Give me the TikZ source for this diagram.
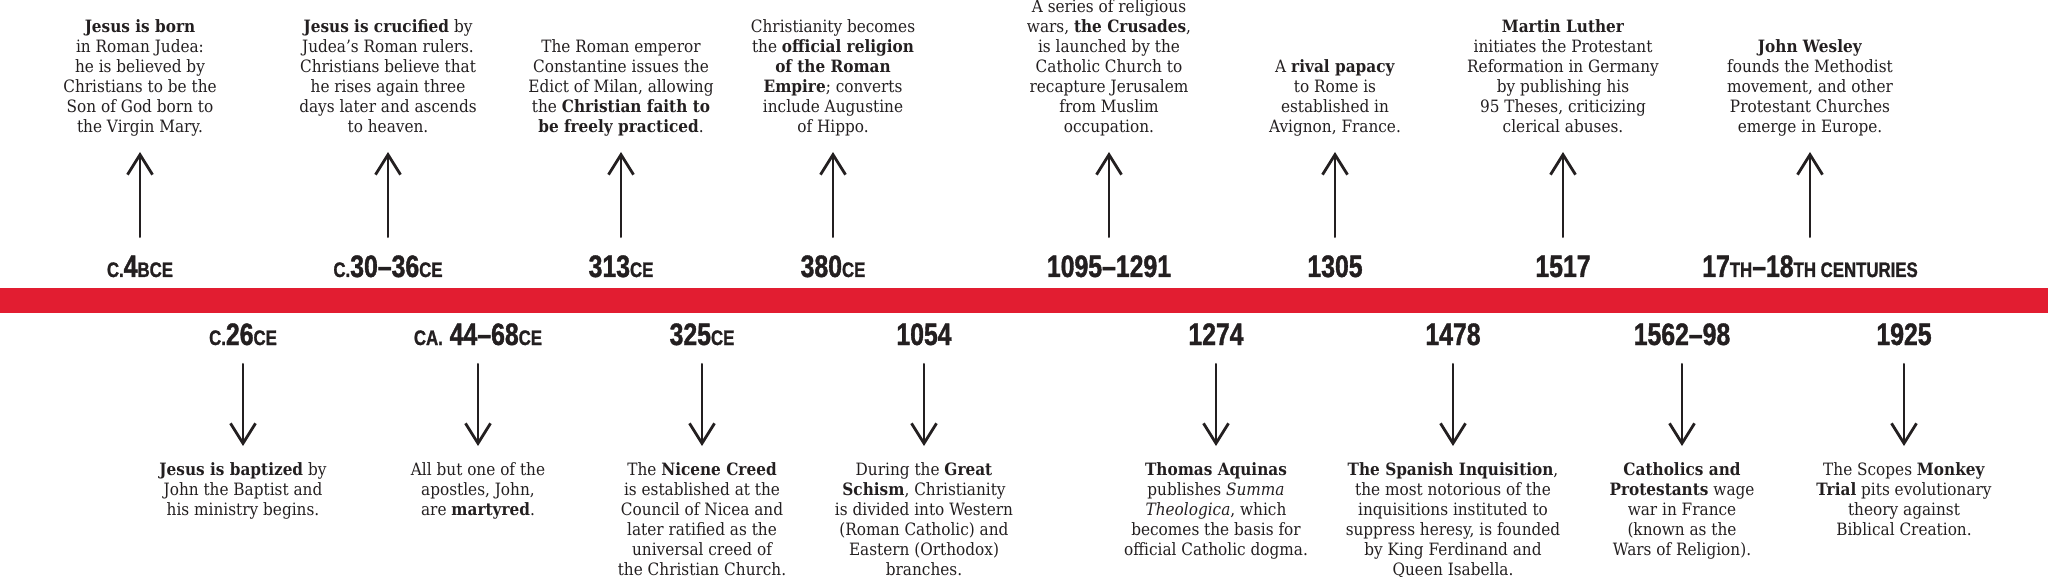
\documentclass[tikz,border=0pt]{standalone}
\usepackage{fontspec}
\setmainfont{DejaVu Serif}[FakeStretch=0.9]
\newfontfamily\datefont{Liberation Sans}[FakeStretch=0.8, FakeBold=1.2]
\usetikzlibrary{arrows.meta}
\definecolor{bandred}{RGB}{226,29,49}
\definecolor{ink}{RGB}{35,31,32}
\newcommand{\sm}[1]{{\fontsize{21}{21}\selectfont #1}}
\tikzset{
  desc/.style={font=\fontsize{17}{20}\selectfont, align=center, inner sep=0pt, text=ink},
  date/.style={font=\datefont\bfseries\fontsize{31}{31}\selectfont, inner sep=0pt, text height=22pt, text depth=0pt, text=ink},
  arr/.style={line width=2.8pt, line cap=round, line join=round, draw=ink, -{Straight Barb[length=20pt,width=25pt]}},
  uparr/.style={arr, shorten <=18pt, shorten >=13pt},
  downarr/.style={arr, shorten <=19pt, shorten >=15pt}
}
\begin{document}
\begin{tikzpicture}[x=1pt,y=-1pt]
\useasboundingbox (0,0) rectangle (2048,577);
\fill[bandred] (0,288) rectangle (2048,313);

% top events
\node[date, anchor=base] (d1) at (140,277) {\sm{C.}4\sm{BCE}};
\node[desc, anchor=south] (t1) at (140,139) {\strut\textbf{Jesus is born}\\\strut in Roman Judea:\\\strut he is believed by\\\strut Christians to be the\\\strut Son of God born to\\\strut the Virgin Mary.};
\node[date, anchor=base] (d2) at (388,277) {\sm{C.}30–36\sm{CE}};
\node[desc, anchor=south] (t2) at (388,139) {\strut\textbf{Jesus is crucified} by\\\strut Judea’s Roman rulers.\\\strut Christians believe that\\\strut he rises again three\\\strut days later and ascends\\\strut to heaven.};
\node[date, anchor=base] (d3) at (621,277) {313\sm{CE}};
\node[desc, anchor=south] (t3) at (621,139) {\strut The Roman emperor\\\strut Constantine issues the\\\strut Edict of Milan, allowing\\\strut the \textbf{Christian faith to}\\\strut\textbf{be freely practiced}.};
\node[date, anchor=base] (d4) at (833,277) {380\sm{CE}};
\node[desc, anchor=south] (t4) at (833,139) {\strut Christianity becomes\\\strut the \textbf{official religion}\\\strut\textbf{of the Roman}\\\strut\textbf{Empire}; converts\\\strut include Augustine\\\strut of Hippo.};
\node[date, anchor=base] (d5) at (1109,277) {1095–1291};
\node[desc, anchor=south] (t5) at (1109,139) {\strut A series of religious\\\strut wars, \textbf{the Crusades},\\\strut is launched by the\\\strut Catholic Church to\\\strut recapture Jerusalem\\\strut from Muslim\\\strut occupation.};
\node[date, anchor=base] (d6) at (1335,277) {1305};
\node[desc, anchor=south] (t6) at (1335,139) {\strut A \textbf{rival papacy}\\\strut to Rome is\\\strut established in\\\strut Avignon, France.};
\node[date, anchor=base] (d7) at (1563,277) {1517};
\node[desc, anchor=south] (t7) at (1563,139) {\strut\textbf{Martin Luther}\\\strut initiates the Protestant\\\strut Reformation in Germany\\\strut by publishing his\\\strut 95 Theses, criticizing\\\strut clerical abuses.};
\node[date, anchor=base] (d8) at (1810,277) {17\sm{TH}–18\sm{TH CENTURIES}};
\node[desc, anchor=south] (t8) at (1810,139) {\strut\textbf{John Wesley}\\\strut founds the Methodist\\\strut movement, and other\\\strut Protestant Churches\\\strut emerge in Europe.};

\foreach \i in {1,...,8} \draw[uparr] (d\i.north) -- (t\i.south);

% bottom events
\node[date, anchor=base] (e1) at (243,345) {\sm{C.}26\sm{CE}};
\node[desc, anchor=north] (b1) at (243,461) {\strut\textbf{Jesus is baptized} by\\\strut John the Baptist and\\\strut his ministry begins.};
\node[date, anchor=base] (e2) at (478,345) {\sm{CA.} 44–68\sm{CE}};
\node[desc, anchor=north] (b2) at (478,461) {\strut All but one of the\\\strut apostles, John,\\\strut are \textbf{martyred}.};
\node[date, anchor=base] (e3) at (702,345) {325\sm{CE}};
\node[desc, anchor=north] (b3) at (702,461) {\strut The \textbf{Nicene Creed}\\\strut is established at the\\\strut Council of Nicea and\\\strut later ratified as the\\\strut universal creed of\\\strut the Christian Church.};
\node[date, anchor=base] (e4) at (924,345) {1054};
\node[desc, anchor=north] (b4) at (924,461) {\strut During the \textbf{Great}\\\strut\textbf{Schism}, Christianity\\\strut is divided into Western\\\strut (Roman Catholic) and\\\strut Eastern (Orthodox)\\\strut branches.};
\node[date, anchor=base] (e5) at (1216,345) {1274};
\node[desc, anchor=north] (b5) at (1216,461) {\strut\textbf{Thomas Aquinas}\\\strut publishes \textit{Summa}\\\strut\textit{Theologica}, which\\\strut becomes the basis for\\\strut official Catholic dogma.};
\node[date, anchor=base] (e6) at (1453,345) {1478};
\node[desc, anchor=north] (b6) at (1453,461) {\strut\textbf{The Spanish Inquisition},\\\strut the most notorious of the\\\strut inquisitions instituted to\\\strut suppress heresy, is founded\\\strut by King Ferdinand and\\\strut Queen Isabella.};
\node[date, anchor=base] (e7) at (1682,345) {1562–98};
\node[desc, anchor=north] (b7) at (1682,461) {\strut\textbf{Catholics and}\\\strut\textbf{Protestants} wage\\\strut war in France\\\strut (known as the\\\strut Wars of Religion).};
\node[date, anchor=base] (e8) at (1904,345) {1925};
\node[desc, anchor=north] (b8) at (1904,461) {\strut The Scopes \textbf{Monkey}\\\strut\textbf{Trial} pits evolutionary\\\strut theory against\\\strut Biblical Creation.};

\foreach \i in {1,...,8} \draw[downarr] (e\i.south) -- (b\i.north);
\end{tikzpicture}
\end{document}
